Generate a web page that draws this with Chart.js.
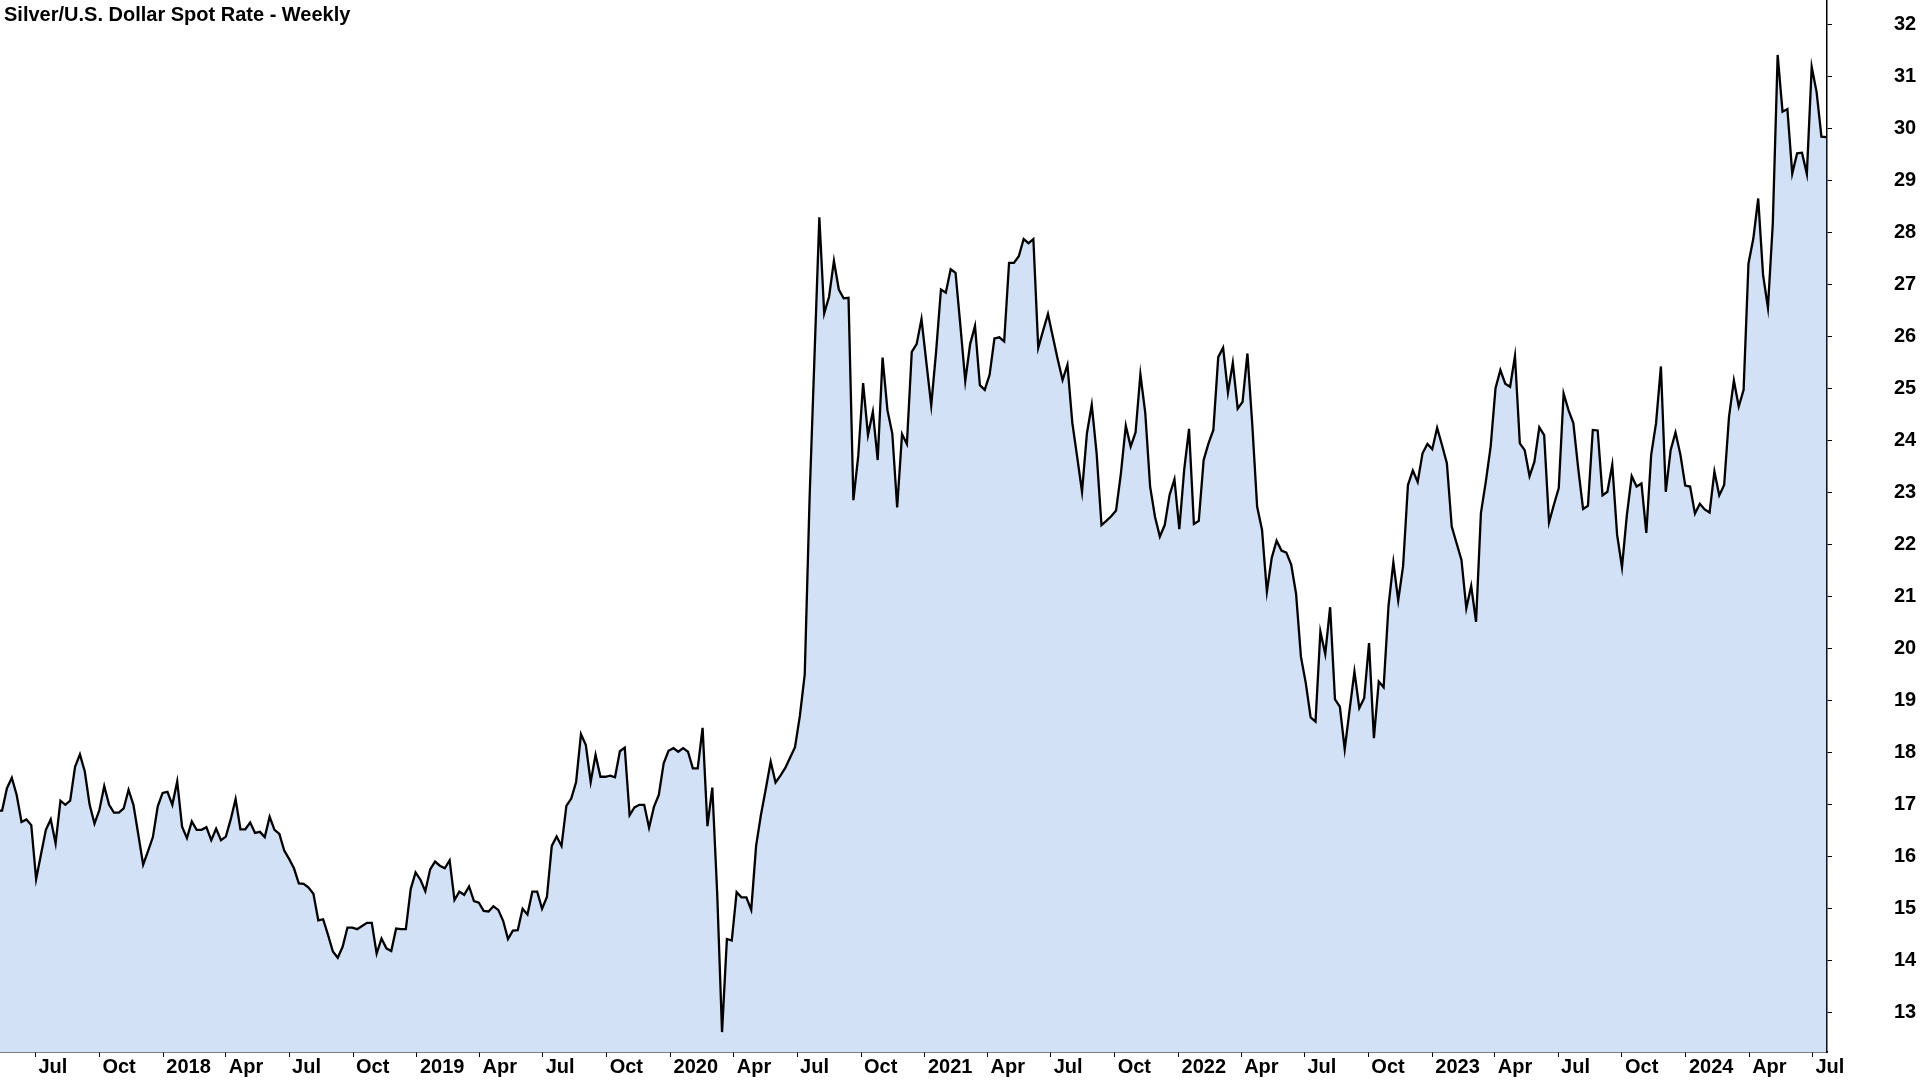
<!DOCTYPE html>
<html>
<head>
<meta charset="utf-8">
<title>Silver/U.S. Dollar Spot Rate - Weekly</title>
<script src="https://cdn.jsdelivr.net/npm/chart.js@4.4.1/dist/chart.umd.min.js"></script>
<style>
    html, body { margin: 0; padding: 0; background: #fff; }
    #wrap { position: relative; width: 1920px; height: 1080px; }
    #chart_title {
        position: absolute; left: 4px; top: 4px;
        font: bold 20px 'Liberation Sans', Arial, sans-serif;
        line-height: 1; color: #000; white-space: nowrap;
    }
</style>
</head>
<body>
<div id="wrap">
    <canvas id="silver_chart" width="1920" height="1080"></canvas>
    <div id="chart_title">Silver/U.S. Dollar Spot Rate - Weekly</div>
</div>
<script>
// weekly closes, one value per week starting with the week of firstWeek
const firstWeek = '2017-05-07';
const silverWeekly = [
    16.88, 16.88, 17.31, 17.51, 17.18, 16.66, 16.71, 16.60, 15.56, 16.04, 16.51, 16.71, 16.25,
    17.07, 16.99, 17.07, 17.72, 17.96, 17.63, 16.99, 16.63, 16.89, 17.35, 16.99, 16.84, 16.84,
    16.92, 17.28, 16.99, 16.42, 15.84, 16.10, 16.37, 16.96, 17.22, 17.24, 16.99, 17.44, 16.57,
    16.35, 16.67, 16.51, 16.51, 16.56, 16.31, 16.53, 16.31, 16.38, 16.71, 17.10, 16.52, 16.52,
    16.65, 16.45, 16.47, 16.37, 16.76, 16.51, 16.43, 16.11, 15.95, 15.77, 15.48, 15.47, 15.40,
    15.28, 14.77, 14.79, 14.49, 14.17, 14.05, 14.26, 14.63, 14.63, 14.60, 14.66, 14.72, 14.72,
    14.13, 14.42, 14.23, 14.18, 14.61, 14.60, 14.60, 15.37, 15.69, 15.55, 15.33, 15.75, 15.90,
    15.82, 15.77, 15.92, 15.16, 15.32, 15.26, 15.42, 15.14, 15.11, 14.95, 14.94, 15.04, 14.97,
    14.76, 14.41, 14.57, 14.58, 14.99, 14.88, 15.32, 15.32, 14.99, 15.22, 16.20, 16.38, 16.20,
    16.97, 17.11, 17.43, 18.35, 18.14, 17.43, 17.95, 17.53, 17.53, 17.55, 17.52, 18.02, 18.09,
    16.79, 16.94, 16.99, 16.99, 16.55, 16.95, 17.18, 17.79, 18.03, 18.08, 18.01, 18.08, 18.01,
    17.69, 17.69, 18.47, 16.58, 17.32, 15.30, 12.62, 14.41, 14.38, 15.31, 15.21, 15.21, 14.97,
    16.20, 16.80, 17.30, 17.82, 17.42, 17.55, 17.70, 17.90, 18.10, 18.70, 19.50, 22.90, 25.60,
    28.29, 26.44, 26.76, 27.45, 26.90, 26.73, 26.74, 22.85, 23.70, 25.10, 24.10, 24.55, 23.62,
    25.59, 24.58, 24.13, 22.71, 24.12, 23.93, 25.70, 25.85, 26.33, 25.50, 24.67, 25.70, 26.90,
    26.84, 27.29, 27.22, 26.20, 25.14, 25.85, 26.20, 25.06, 24.97, 25.26, 25.96, 25.98, 25.90,
    27.41, 27.41, 27.54, 27.87, 27.79, 27.87, 25.78, 26.11, 26.43, 25.99, 25.56, 25.16, 25.45,
    24.34, 23.68, 23.01, 24.13, 24.68, 23.75, 22.37, 22.45, 22.54, 22.65, 23.37, 24.28, 23.88,
    24.15, 25.27, 24.53, 23.11, 22.53, 22.15, 22.37, 22.95, 23.25, 22.29, 23.43, 24.22, 22.39,
    22.45, 23.62, 23.94, 24.20, 25.60, 25.78, 24.92, 25.49, 24.61, 24.74, 25.67, 24.30, 22.72,
    22.28, 21.09, 21.74, 22.07, 21.88, 21.84, 21.61, 21.05, 19.84, 19.33, 18.67, 18.59, 20.32,
    19.89, 20.79, 19.02, 18.88, 18.06, 18.81, 19.55, 18.85, 19.04, 20.10, 18.27, 19.36, 19.25,
    20.81, 21.65, 20.92, 21.58, 23.14, 23.42, 23.20, 23.75, 23.93, 23.83, 24.24, 23.91, 23.56,
    22.34, 22.02, 21.70, 20.77, 21.20, 20.51, 22.60, 23.20, 23.88, 25.00, 25.35, 25.09, 25.03,
    25.62, 23.94, 23.81, 23.31, 23.59, 24.25, 24.10, 22.42, 22.76, 23.08, 24.90, 24.58, 24.33,
    23.46, 22.68, 22.74, 24.20, 24.19, 22.94, 23.01, 23.53, 22.18, 21.56, 22.56, 23.31, 23.11,
    23.17, 22.22, 23.72, 24.33, 25.42, 23.01, 23.81, 24.15, 23.73, 23.13, 23.11, 22.59, 22.78,
    22.67, 22.61, 23.40, 22.94, 23.14, 24.45, 25.15, 24.65, 24.97, 27.40, 27.88, 28.65, 27.18,
    26.55, 28.17, 31.41, 30.32, 30.37, 29.13, 29.52, 29.53, 29.12, 31.18, 30.70, 29.84, 29.83
];
const priceTicks = [13, 14, 15, 16, 17, 18, 19, 20, 21, 22, 23, 24, 25, 26, 27, 28, 29, 30, 31, 32];
const monthNames = ['Jan', 'Feb', 'Mar', 'Apr', 'May', 'Jun', 'Jul', 'Aug', 'Sep', 'Oct', 'Nov', 'Dec'];
const tickMonths = [0, 3, 6, 9];

const DAY = 86400000;
const weekStart = Date.parse(firstWeek);
let silver_points = silverWeekly.map(function (v, i) {
    return {x: weekStart + i * 7 * DAY, y: v};
});

let axis_font = {
    family: "'Liberation Sans', Arial, sans-serif",
    size: 20,
    weight: 'bold'
};

let silver_chart_param = {
    type: 'line',
    data: {
        datasets: [{
            label: 'Silver',
            data: silver_points,
            fill: 'start',
            backgroundColor: '#d2e1f6',
            borderColor: '#000000',
            borderWidth: 2.3,
            tension: 0,
            pointRadius: 0,
        }]
    },
    options: {
        responsive: false,
        animation: false,
        layout: {padding: 0},
        plugins: {
            legend: {display: false},
            tooltip: {enabled: false},
            title: {display: false}
        },
        scales: {
            x: {
                type: 'linear',
                min: Date.UTC(2017, 4, 11),
                max: Date.UTC(2024, 6, 22),
                afterBuildTicks: function (scale) {
                    let ticks = [];
                    for (let y = 2017; y <= 2024; y++) {
                        tickMonths.forEach(function (m) {
                            let t = Date.UTC(y, m, 1);
                            if (t >= scale.min && t <= scale.max) ticks.push({value: t});
                        });
                    }
                    scale.ticks = ticks;
                },
                afterFit: function (scale) {
                    scale.height = 28;
                    scale.paddingLeft = 0;
                    scale.paddingRight = 0;
                },
                grid: {drawOnChartArea: false, tickLength: 5, tickColor: '#000', tickWidth: 1},
                border: {display: true, color: '#000', width: 1.5},
                ticks: {
                    align: 'start',
                    labelOffset: 3,
                    padding: -2,
                    maxRotation: 0,
                    autoSkip: false,
                    color: '#000',
                    font: axis_font,
                    callback: function (value) {
                        let d = new Date(value);
                        let m = d.getUTCMonth();
                        return m === 0 ? String(d.getUTCFullYear()) : monthNames[m];
                    }
                }
            },
            y: {
                position: 'right',
                min: 12.237,
                max: 32.467,
                afterBuildTicks: function (scale) {
                    scale.ticks = priceTicks.map(function (v) { return {value: v}; });
                },
                afterFit: function (scale) {
                    scale.width = 93;
                    scale.paddingTop = 0;
                    scale.paddingBottom = 0;
                },
                grid: {drawOnChartArea: false, tickLength: 5, tickColor: '#000', tickWidth: 1},
                border: {display: true, color: '#000', width: 1.5},
                ticks: {
                    padding: 62,
                    crossAlign: 'near',
                    color: '#000',
                    font: axis_font
                }
            }
        }
    }
};

let silver_chart = new Chart(document.getElementById('silver_chart'), silver_chart_param);
</script>
</body>
</html>
